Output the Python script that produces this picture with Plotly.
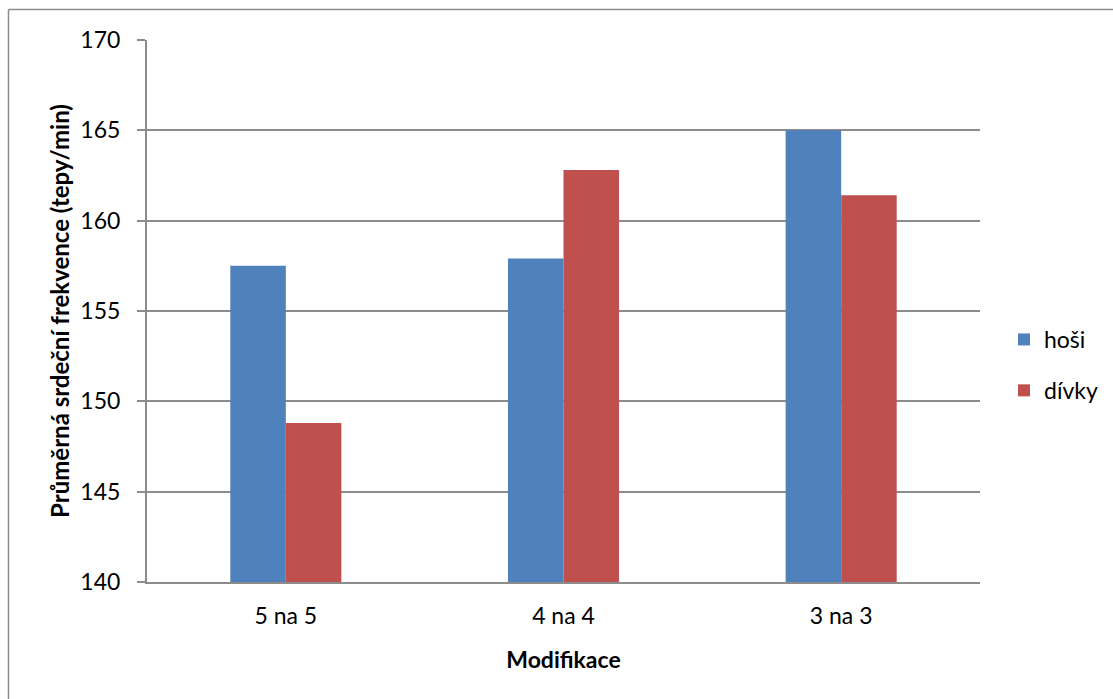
import plotly.graph_objects as go

categories = ["5 na 5", "4 na 4", "3 na 3"]
hosi = [157.5, 157.9, 165.0]
divky = [148.8, 162.8, 161.4]
y_ticks = [140, 145, 150, 155, 160, 165, 170]

W, H = 1113, 699
L, R, T, B = 147, 980, 40, 582

GRID = "#8c8c8c"
FONT = "Lato"

fig = go.Figure()
fig.add_trace(go.Bar(x=categories, y=hosi, name="hoši", marker_color="#4F81BD",
                     marker_line_width=0, legendgroup="a"))
fig.add_trace(go.Bar(x=categories, y=divky, name="dívky", marker_color="#C0504D",
                     marker_line_width=0, legendgroup="b"))

pw, ph = R - L, B - T


def px_x(x):
    return (x - L) / pw


def px_y(y):
    return (B - y) / ph


# outer chart border (top and left edges visible)
fig.add_shape(type="line", xref="paper", yref="paper",
              x0=px_x(8.5), x1=px_x(W + 5), y0=px_y(9.5), y1=px_y(9.5),
              line=dict(color="#8c8c8c", width=1.5))
fig.add_shape(type="line", xref="paper", yref="paper",
              x0=px_x(8.5), x1=px_x(8.5), y0=px_y(9.5), y1=px_y(H + 5),
              line=dict(color="#8c8c8c", width=1.5))

fig.update_layout(
    width=W, height=H,
    margin=dict(l=L, r=W - R, t=T, b=H - B, autoexpand=False),
    paper_bgcolor="white", plot_bgcolor="white",
    bargap=0.6, bargroupgap=0,
    font=dict(family=FONT, color="black", size=23),
    showlegend=True,
    legend=dict(x=px_x(1004), y=px_y(318), xanchor="left", yanchor="top",
                font=dict(size=23, family=FONT), tracegroupgap=18,
                itemwidth=30, bgcolor="rgba(0,0,0,0)"),
    xaxis=dict(
        showgrid=False, showline=True, linecolor=GRID, linewidth=2,
        ticks="", tickfont=dict(size=23, family=FONT), ticklabelstandoff=12,
        title=dict(text="<b>Modifikace</b>", font=dict(size=23, family=FONT), standoff=24),
    ),
    yaxis=dict(
        range=[140, 170], tickvals=y_ticks, showgrid=True, gridcolor=GRID, gridwidth=2,
        showline=True, linecolor=GRID, linewidth=2, ticks="outside", ticklen=8,
        tickcolor=GRID, tickwidth=2, tickfont=dict(size=23, family=FONT),
        ticklabelstandoff=12, zeroline=False,
        title=dict(text="<b>Průměrná srdeční frekvence (tepy/min)</b>",
                   font=dict(size=24, family=FONT), standoff=4),
    ),
)

fig.write_html("out.html")
